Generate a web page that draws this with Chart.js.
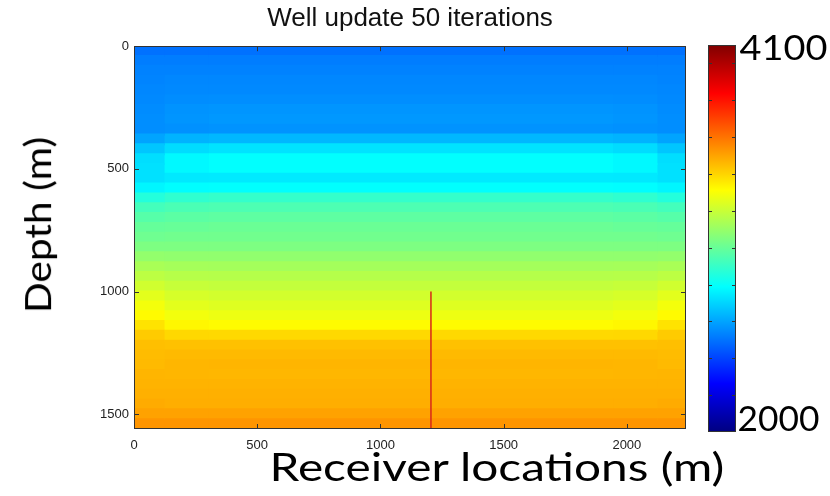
<!DOCTYPE html>
<html>
<head>
<meta charset="utf-8">
<script src="https://cdn.jsdelivr.net/npm/chart.js@4/dist/chart.umd.min.js"></script>
<style>
  body { margin: 0; background: #fff; }
  #wrap { position: relative; width: 830px; height: 496px; overflow: hidden; }
  #main { position: absolute; left: 0; top: 0; }
  #cbar { position: absolute; left: 690px; top: 0; }
  .slide { position: absolute; font-family: Lato, 'Open Sans', sans-serif; color: #000;
           line-height: 1; white-space: nowrap; transform-origin: center center; }
</style>
</head>
<body>
<div id="wrap">
  <canvas id="main" width="830" height="496"></canvas>
  <canvas id="cbar" width="80" height="496"></canvas>
  <div class="slide" id="lblX" style="font-size:38px">Receiver locations (m)</div>
  <div class="slide" id="lblY" style="font-size:36px">Depth (m)</div>
  <div class="slide" id="lblMax" style="font-size:34px">4100</div>
  <div class="slide" id="lblMin" style="font-size:34px">2000</div>
</div>
<script>
// datos del modelo de velocidad (m/s)

// centros de las filas de profundidad (m), filas de 40 m
const depthRows = [20, 60, 100, 140, 180, 220, 260, 300, 340, 380, 420, 460, 500,
    540, 580, 620, 660, 700, 740, 780, 820, 860, 900, 940, 980, 1020, 1060, 1100,
    1140, 1180, 1220, 1260, 1300, 1340, 1380, 1420, 1460, 1500, 1540];

// perfil en el centro del modelo
const velCentre = [2495, 2520, 2530, 2540, 2545, 2555, 2570, 2575, 2565, 2640, 2730, 2790, 2790,
    2745, 2790, 2895, 2945, 2980, 3005, 3020, 3045, 3085, 3125, 3160, 3190, 3220, 3245, 3275,
    3320, 3390, 3440, 3455, 3465, 3460, 3470, 3475, 3480, 3505, 3530];

// perfil cerca de los bordes
const velShoulder = [2495, 2520, 2530, 2540, 2545, 2552, 2565, 2570, 2562, 2630, 2715, 2775, 2775,
    2742, 2785, 2885, 2940, 2975, 3000, 3020, 3045, 3085, 3128, 3162, 3195, 3228, 3255, 3288,
    3328, 3392, 3440, 3455, 3462, 3462, 3470, 3475, 3480, 3505, 3530];

// perfil en los bordes
const velEdge = [2495, 2520, 2530, 2535, 2540, 2545, 2550, 2555, 2555, 2600, 2670, 2720, 2725,
    2725, 2770, 2860, 2925, 2965, 2995, 3015, 3045, 3090, 3135, 3175, 3215, 3255, 3290, 3320,
    3370, 3420, 3445, 3450, 3455, 3465, 3470, 3475, 3485, 3505, 3530];

// columnas (m) y el perfil que usa cada una
const columnSpans = [[0, 120], [120, 300], [300, 1940], [1940, 2120], [2120, 2240]];
const columnProfiles = [velEdge, velShoulder, velCentre, velShoulder, velEdge];

// pozo
const wellX = 1205;
const wellTop = 1000;
const wellBottom = 1560;

// escalas
const xMax = 2240;
const depthMax = 1560;
const xTicks = [0, 500, 1000, 1500, 2000];
const depthTicks = [0, 500, 1000, 1500];
const velMin = 2000;
const velMax = 4100;
const cbarTicks = [2200, 2400, 2600, 2800, 3000, 3200, 3400, 3600, 3800, 4000];

// mapa de colores jet
function jet(v) {
    const t = (v - velMin) / (velMax - velMin);
    const c = x => Math.round(255 * Math.max(0, Math.min(1, x)));
    return `rgb(${c(1.5 - Math.abs(4 * t - 3))},${c(1.5 - Math.abs(4 * t - 2))},${c(1.5 - Math.abs(4 * t - 1))})`;
}

// marcas hacia adentro y marco, estilo matlab
const inwardTicks = {
    id: 'inwardTicks',
    afterDatasetsDraw(chart, args, opts) {
        const { ctx, chartArea: a } = chart;
        ctx.save();
        ctx.strokeStyle = opts.color;
        ctx.lineWidth = 1;
        ctx.beginPath();
        (opts.xValues || []).forEach(v => {
            const px = Math.round(chart.scales.x.getPixelForValue(v)) + 0.5;
            if (px <= a.left + 1 || px >= a.right - 1) return;
            ctx.moveTo(px, a.bottom); ctx.lineTo(px, a.bottom - opts.len);
            ctx.moveTo(px, a.top); ctx.lineTo(px, a.top + opts.len);
        });
        (opts.yValues || []).forEach(v => {
            const py = Math.round(chart.scales.y.getPixelForValue(v)) + 0.5;
            if (py <= a.top + 1 || py >= a.bottom - 1) return;
            ctx.moveTo(a.left, py); ctx.lineTo(a.left + opts.len, py);
            ctx.moveTo(a.right, py); ctx.lineTo(a.right - opts.len, py);
        });
        ctx.stroke();
        if (opts.frame) {
            ctx.strokeRect(Math.round(a.left) + 0.5, Math.round(a.top) + 0.5,
                Math.round(a.width) - 1, Math.round(a.height) - 1);
        }
        ctx.restore();
    }
};

Chart.defaults.font.family = "'Liberation Sans', Arial, sans-serif";
Chart.defaults.animation = false;

// celdas del mapa: una serie por columna
const cellSets = columnSpans.map((span, c) => ({
    type: 'bar',
    order: 1,
    data: depthRows.map(d => ({ y: d, x: span })),
    backgroundColor: columnProfiles[c].map(v => jet(v)),
    borderWidth: 0,
    inflateAmount: 1,
    barPercentage: 1,
    categoryPercentage: 1,
    grouped: false
}));

new Chart(document.getElementById('main'), {
    type: 'bar',
    data: {
        datasets: [{
            type: 'line',
            order: 0,
            data: [{ x: wellX, y: wellTop }, { x: wellX, y: wellBottom }],
            borderColor: 'rgb(215, 40, 25)',
            borderWidth: 1.5,
            pointRadius: 0
        }].concat(cellSets)
    },
    options: {
        responsive: false,
        indexAxis: 'y',
        layout: { padding: { left: 0, right: 144, top: 0, bottom: 0 } },
        scales: {
            x: {
                type: 'linear', position: 'bottom', min: 0, max: xMax,
                offset: false,
                grid: { display: false, offset: false, drawTicks: false },
                border: { display: false },
                afterBuildTicks: s => { s.ticks = xTicks.map(v => ({ value: v })); },
                afterFit: s => { s.height = 67; },
                ticks: { color: '#222', font: { size: 13 }, padding: 9, maxRotation: 0,
                         callback: v => String(v) }
            },
            y: {
                type: 'linear', position: 'left', reverse: true, min: 0, max: depthMax,
                offset: false,
                grid: { display: false, offset: false, drawTicks: false },
                border: { display: false },
                afterBuildTicks: s => { s.ticks = depthTicks.map(v => ({ value: v })); },
                afterFit: s => { s.width = 134; },
                ticks: { color: '#222', font: { size: 13 }, padding: 5,
                         callback: v => String(v) }
            }
        },
        plugins: {
            legend: { display: false },
            tooltip: { enabled: false },
            title: {
                display: true,
                text: 'Well update 50 iterations',
                fullSize: false,
                color: '#111',
                font: { size: 26, weight: 'normal' },
                padding: { top: 3, bottom: 12 }
            },
            inwardTicks: { color: '#333', len: 5, frame: true, xValues: xTicks, yValues: depthTicks }
        }
    },
    plugins: [inwardTicks]
});

// barra de colores
new Chart(document.getElementById('cbar'), {
    type: 'bar',
    data: {
        labels: ['v'],
        datasets: [{
            data: [[velMin, velMax]],
            backgroundColor: function(context) {
                const area = context.chart.chartArea;
                if (!area) return '#888';
                const g = context.chart.ctx.createLinearGradient(0, area.bottom, 0, area.top);
                g.addColorStop(0, 'rgb(0,0,128)');
                g.addColorStop(0.125, 'rgb(0,0,255)');
                g.addColorStop(0.375, 'rgb(0,255,255)');
                g.addColorStop(0.625, 'rgb(255,255,0)');
                g.addColorStop(0.875, 'rgb(255,0,0)');
                g.addColorStop(1, 'rgb(128,0,0)');
                return g;
            },
            borderWidth: 0,
            barPercentage: 1,
            categoryPercentage: 1
        }]
    },
    options: {
        responsive: false,
        layout: { padding: { left: 18, right: 34, top: 45, bottom: 64 } },
        scales: {
            x: { display: false, offset: true },
            y: { display: false, min: velMin, max: velMax }
        },
        plugins: {
            legend: { display: false },
            tooltip: { enabled: false },
            inwardTicks: { color: '#333', len: 4, frame: true, yValues: cbarTicks }
        }
    },
    plugins: [inwardTicks]
});

// textos grandes de la diapositiva, ajustados al ancho de la imagen
function placeText(id, cx, cy, width, rotate) {
    const el = document.getElementById(id);
    const s = width / el.offsetWidth;
    el.style.left = (cx - el.offsetWidth / 2) + 'px';
    el.style.top = (cy - el.offsetHeight / 2) + 'px';
    el.style.transform = (rotate ? 'rotate(-90deg) ' : '') + 'scaleX(' + s + ')';
}
placeText('lblX', 497, 466, 455, false);
placeText('lblY', 37, 225, 176, true);
placeText('lblMax', 783, 47, 88, false);
placeText('lblMin', 778, 418, 82, false);
</script>
</body>
</html>
